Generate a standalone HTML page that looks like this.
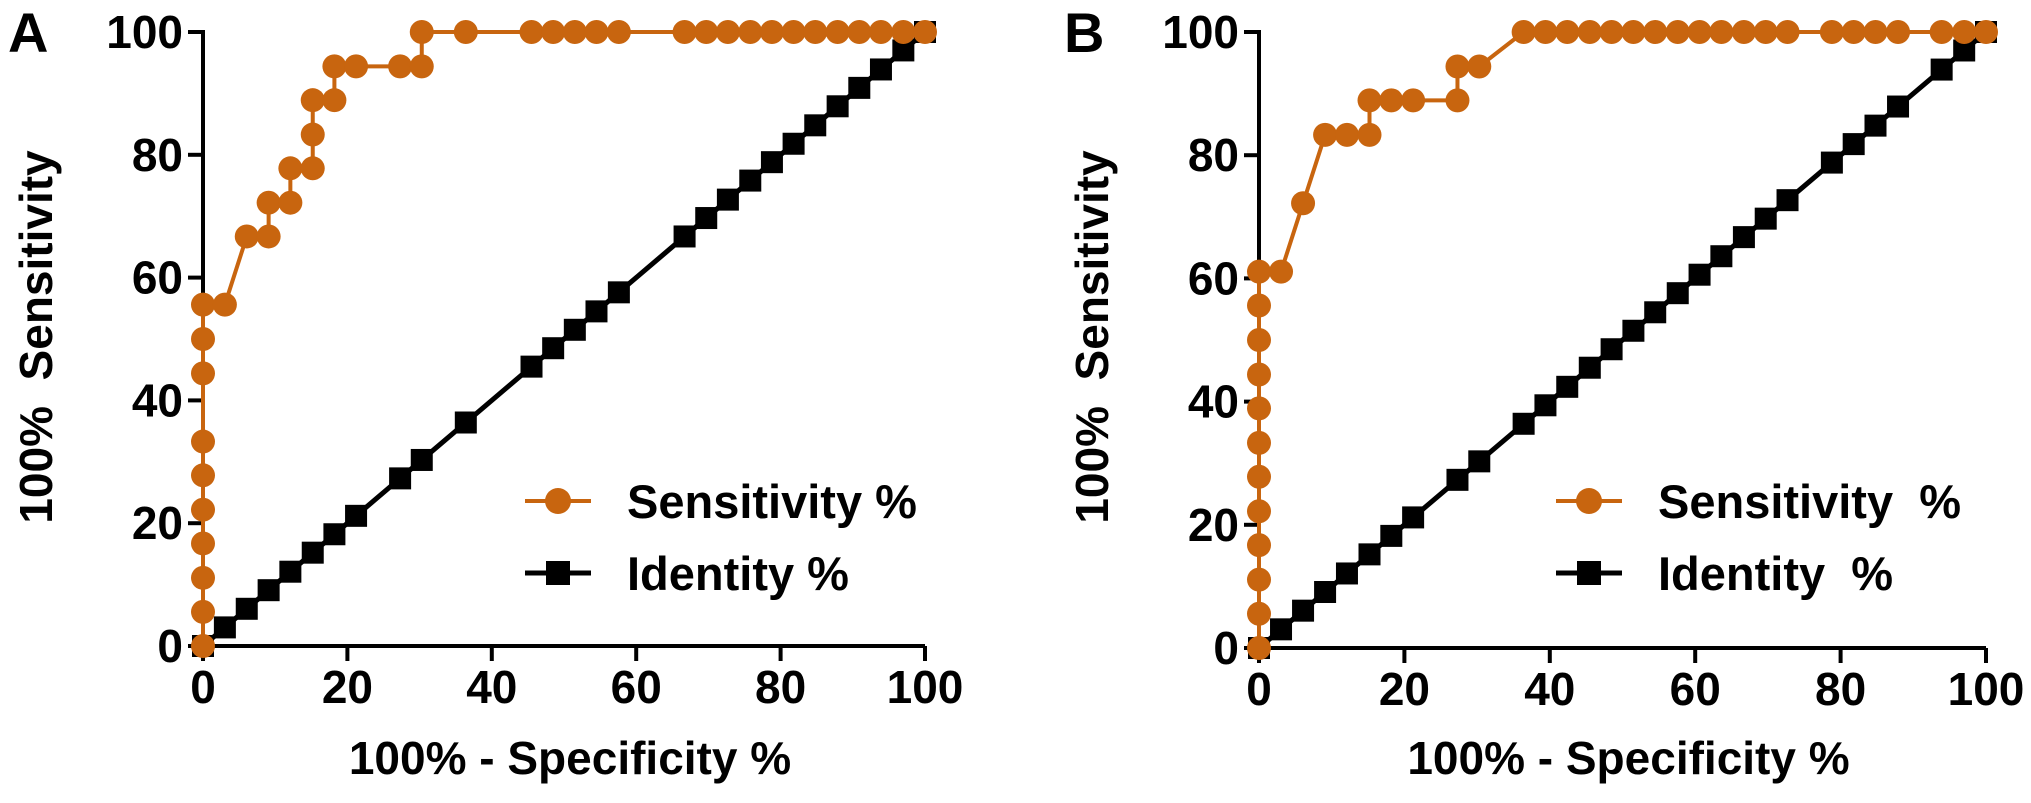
<!DOCTYPE html>
<html><head><meta charset="utf-8"><style>
html,body{margin:0;padding:0;background:#fff;}
svg{display:block;font-family:"Liberation Sans",Arial,sans-serif;font-weight:bold;}
</style></head><body>
<svg id="chart" width="2031" height="803" viewBox="0 0 2031 803" xmlns="http://www.w3.org/2000/svg"></svg>
<script>
const xTicks = [0, 20, 40, 60, 80, 100];
const yTicks = [0, 20, 40, 60, 80, 100];
const sensAx = [0,0,0,0,0,0,0,0,0,0,3.03,6.06,9.09,9.09,12.1,12.1,15.2,15.2,15.2,18.2,18.2,21.2,27.3,30.3,30.3,36.4,45.5,48.5,51.5,54.5,57.6,66.7,69.7,72.7,75.8,78.8,81.8,84.8,87.9,90.9,93.9,97,100];
const sensAy = [0,5.56,11.1,16.7,22.2,27.8,33.3,44.4,50,55.6,55.6,66.7,66.7,72.2,72.2,77.8,77.8,83.3,88.9,88.9,94.4,94.4,94.4,94.4,100,100,100,100,100,100,100,100,100,100,100,100,100,100,100,100,100,100,100];
const identA = [0,3.03,6.06,9.09,12.1,15.2,18.2,21.2,27.3,30.3,36.4,45.5,48.5,51.5,54.5,57.6,66.7,69.7,72.7,75.8,78.8,81.8,84.8,87.9,90.9,93.9,97,100];
const sensBx = [0,0,0,0,0,0,0,0,0,0,0,0,3.03,6.06,9.09,12.1,15.2,15.2,18.2,21.2,27.3,27.3,30.3,36.4,39.4,42.4,45.5,48.5,51.5,54.5,57.6,60.6,63.6,66.7,69.7,72.7,78.8,81.8,84.8,87.9,93.9,97,100];
const sensBy = [0,5.56,11.1,16.7,22.2,27.8,33.3,38.9,44.4,50,55.6,61.1,61.1,72.2,83.3,83.3,83.3,88.9,88.9,88.9,88.9,94.4,94.4,100,100,100,100,100,100,100,100,100,100,100,100,100,100,100,100,100,100,100,100];
const identB = [0,3.03,6.06,9.09,12.1,15.2,18.2,21.2,27.3,30.3,36.4,39.4,42.4,45.5,48.5,51.5,54.5,57.6,60.6,63.6,66.7,69.7,72.7,78.8,81.8,84.8,87.9,93.9,97,100];

const NS = "http://www.w3.org/2000/svg";
const svg = document.getElementById('chart');
const ORANGE = "#c8650f";
function mk(tag, attrs, parent){
  const e = document.createElementNS(NS, tag);
  for (const k in attrs) e.setAttribute(k, attrs[k]);
  (parent||svg).appendChild(e);
  return e;
}
function panel(cfg){
  const g = mk('g', {});
  
  
  const X = v => cfg.x0 + (cfg.x1 - cfg.x0) * v / 100;
  const Y = v => cfg.y0 - (cfg.y0 - cfg.y1) * v / 100;
  const L = mk('text', {x: cfg.lx, y: 52, 'font-size': 56}, g);
  L.textContent = cfg.letter;
  
  
  const ya = mk('path', {d: `M${X(0)-15},${Y(100)} H${X(0)} V${Y(0)} M${X(0)-15},${Y(0)} H${X(100)}`, stroke: '#000', 'stroke-width': 4, fill: 'none'}, g);
  
  
  yTicks.forEach(t => {
    mk('line', {x1: X(0)-15, x2: X(0), y1: Y(t), y2: Y(t), stroke: '#000', 'stroke-width': 4}, g);
    const tx = mk('text', {x: X(0)-20, y: Y(t)+16, 'font-size': 46, 'text-anchor': 'end'}, g);
    tx.textContent = t;
    
    
  });
  xTicks.forEach(t => {
    mk('line', {x1: X(t), x2: X(t), y1: Y(0), y2: Y(0)+15, stroke: '#000', 'stroke-width': 4}, g);
    const tx = mk('text', {x: X(t), y: Y(0)+57, 'font-size': 46, 'text-anchor': 'middle'}, g);
    tx.textContent = t;
    
    
  });
  const xt = mk('text', {x: (X(0)+X(100))/2 + 6, y: 774, 'font-size': 46, 'text-anchor': 'middle'}, g);
  xt.textContent = '100% - Specificity %';
  
  
  const yt = mk('text', {x: 0, y: 0, 'font-size': 46, 'text-anchor': 'middle', transform: `translate(${cfg.ytx},337) rotate(-90)`}, g);
  yt.textContent = '100%\u00a0\u00a0Sensitivity';
  
  
  const ip = mk('polyline', {points: cfg.ident.map(v => X(v)+','+Y(v)).join(' '), stroke: '#000', 'stroke-width': 5, fill: 'none'}, g);
  
  
  cfg.ident.forEach(v => {
    const r = mk('rect', {x: X(v)-11, y: Y(v)-11, width: 22, height: 22, fill: '#000'}, g);
    
    
  });
  const sp = mk('polyline', {points: cfg.sx.map((v,i) => X(v)+','+Y(cfg.sy[i])).join(' '), stroke: ORANGE, 'stroke-width': 4, fill: 'none'}, g);
  
  
  cfg.sx.forEach((v,i) => {
    const c = mk('circle', {cx: X(v), cy: Y(cfg.sy[i]), r: 12, fill: ORANGE}, g);
    
    
  });
  const lg = mk('g', {}, g);
  
  
  mk('line', {x1: cfg.legx, x2: cfg.legx+66, y1: 501, y2: 501, stroke: ORANGE, 'stroke-width': 4}, lg);
  mk('circle', {cx: cfg.legx+33, cy: 501, r: 13, fill: ORANGE}, lg);
  const t1 = mk('text', {x: cfg.legx+102, y: 518, 'font-size': 47}, lg);
  t1.textContent = cfg.sLabel;
  
  
  mk('line', {x1: cfg.legx, x2: cfg.legx+66, y1: 573, y2: 573, stroke: '#000', 'stroke-width': 5}, lg);
  mk('rect', {x: cfg.legx+21, y: 561, width: 24, height: 24, fill: '#000'}, lg);
  const t2 = mk('text', {x: cfg.legx+102, y: 590, 'font-size': 47}, lg);
  t2.textContent = cfg.iLabel;
  
  
}
panel({letter:'A', lx:8, x0:203, x1:925, y0:646, y1:32, ytx:52, legx:525, ident:identA, sx:sensAx, sy:sensAy, sLabel:'Sensitivity %', iLabel:'Identity %'});
panel({letter:'B', lx:1064, x0:1259, x1:1986, y0:648, y1:32, ytx:1108, legx:1556, ident:identB, sx:sensBx, sy:sensBy, sLabel:'Sensitivity\u00a0\u00a0%', iLabel:'Identity\u00a0\u00a0%'});
</script>
</body></html>
